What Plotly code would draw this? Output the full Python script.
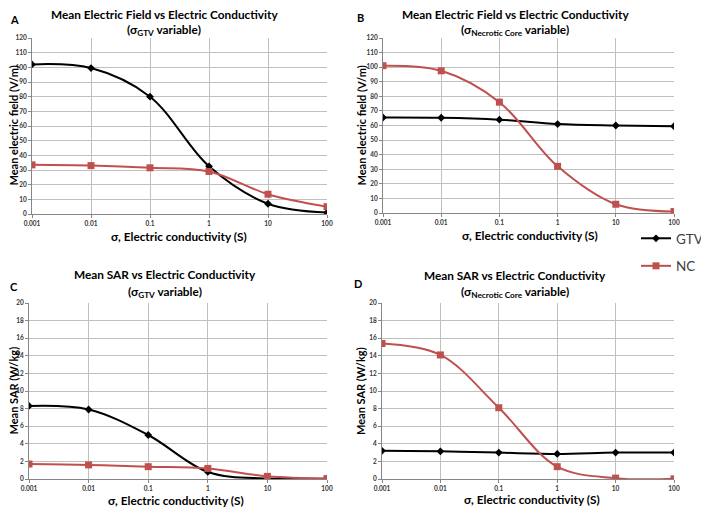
import plotly.graph_objects as go

# ── Data ─────────────────────────────────────────────────────────
sigma = [0.001, 0.01, 0.1, 1, 10, 100]
tick_text = ["0.001", "0.01", "0.1", "1", "10", "100"]

# A: mean E-field, sigma GTV variable
a_gtv = [102, 99.5, 80, 32.5, 7, 1]
a_nc = [33.5, 33, 31.5, 29, 13.5, 5]
# B: mean E-field, sigma necrotic core variable
b_gtv = [65.5, 65.3, 64, 61, 60, 59.5]
b_nc = [101, 97.5, 76, 32, 6, 1]
# C: mean SAR, sigma GTV variable
c_gtv = [8.3, 7.9, 5.0, 0.8, 0.05, 0.02]
c_nc = [1.7, 1.6, 1.4, 1.2, 0.3, 0.05]
# D: mean SAR, sigma necrotic core variable
d_gtv = [3.2, 3.15, 3.0, 2.85, 3.0, 3.0]
d_nc = [15.4, 14.1, 8.1, 1.4, 0.1, 0.02]

BLACK = "#000000"
RED = "#C0504D"
FONT = "Lato"
W, H = 709, 508
OFF = 8               # the page body has an 8px margin
FW, FH = W - OFF, H - OFF


def px_x(p):
    return (p - OFF) / FW


def px_y(p):
    return 1 - (p - OFF) / FH


def bold(size, color=BLACK):
    return dict(family=FONT, size=size, color=color, weight="bold")


panels = [
    dict(sfx="", gtv=a_gtv, nc=a_nc, xd=(32, 327), yd=(214, 38), ymax=120, dt=10,
         ytitle="Mean electric field (V/m)", ytx=12.5,
         t1="Mean Electric Field vs Electric Conductivity",
         t2="(σ<sub>GTV</sub> variable)", letter="A",
         tx=164, ty=(14, 30), lxy=(14, 19), xt=(179, 237)),
    dict(sfx="2", gtv=b_gtv, nc=b_nc, xd=(383, 674), yd=(213, 38), ymax=120, dt=10,
         ytitle="Mean electric field (V/m)", ytx=361,
         t1="Mean Electric Field vs Electric Conductivity",
         t2="(σ<sub>Necrotic Core</sub> variable)", letter="B",
         tx=515, ty=(14, 30), lxy=(360, 17), xt=(530, 236)),
    dict(sfx="3", gtv=c_gtv, nc=c_nc, xd=(29, 327), yd=(479, 303), ymax=20, dt=2,
         ytitle="Mean SAR (W/kg)", ytx=12.5,
         t1="Mean SAR vs Electric Conductivity",
         t2="(σ<sub>GTV</sub> variable)", letter="C",
         tx=165, ty=(274, 292), lxy=(14, 286), xt=(176, 500)),
    dict(sfx="4", gtv=d_gtv, nc=d_nc, xd=(382, 674), yd=(479, 303), ymax=20, dt=2,
         ytitle="Mean SAR (W/kg)", ytx=360,
         t1="Mean SAR vs Electric Conductivity",
         t2="(σ<sub>Necrotic Core</sub> variable)", letter="D",
         tx=515, ty=(275, 292), lxy=(358, 283), xt=(532, 499.5)),
]

fig = go.Figure()
annotations = []

for i, p in enumerate(panels):
    sfx = p["sfx"]
    fig.add_trace(go.Scatter(
        x=sigma, y=p["gtv"], name="GTV", mode="lines+markers",
        line=dict(color=BLACK, width=2, shape="spline"),
        marker=dict(symbol="diamond", size=6, color=BLACK),
        xaxis="x" + sfx, yaxis="y" + sfx,
        showlegend=(i == 0), legendgroup="gtv",
    ))
    fig.add_trace(go.Scatter(
        x=sigma, y=p["nc"], name="NC", mode="lines+markers",
        line=dict(color=RED, width=2, shape="spline"),
        marker=dict(symbol="square", size=7, color=RED),
        xaxis="x" + sfx, yaxis="y" + sfx,
        showlegend=(i == 0), legendgroup="nc",
    ))

    xd, yd = p["xd"], p["yd"]
    fig.update_layout({
        "xaxis" + sfx: dict(
            type="log", range=[-3, 2], domain=[px_x(xd[0]), px_x(xd[1])],
            anchor="y" + sfx, tickvals=sigma, ticktext=tick_text,
            showgrid=True, gridcolor="#BFBFBF", gridwidth=1,
            showline=True, linecolor="#868686", ticks="outside", ticklen=3,
            tickcolor="#868686", zeroline=False, automargin=False,
            tickfont=bold(6.5, "#333333"),
        ),
        "yaxis" + sfx: dict(
            range=[0, p["ymax"]], dtick=p["dt"], domain=[px_y(yd[0]), px_y(yd[1])],
            anchor="x" + sfx, showgrid=True, gridcolor="#BFBFBF", gridwidth=1,
            showline=True, linecolor="#868686", ticks="outside", ticklen=3,
            tickcolor="#868686", zeroline=False, automargin=False,
            tickfont=bold(6.5, "#333333"),
        ),
    })

    annotations += [
        dict(text=p["t1"], x=px_x(p["tx"]), y=px_y(p["ty"][0]), font=bold(11.8)),
        dict(text=p["t2"], x=px_x(p["tx"]), y=px_y(p["ty"][1]), font=bold(11.8)),
        dict(text=p["letter"], x=px_x(p["lxy"][0]), y=px_y(p["lxy"][1]), font=bold(11)),
        dict(text="σ, Electric conductivity (S)", x=px_x(p["xt"][0]),
             y=px_y(p["xt"][1]), font=bold(11.8)),
        dict(text=p["ytitle"], x=px_x(p["ytx"]), y=px_y((yd[0] + yd[1]) / 2),
             textangle=-90, font=bold(11)),
    ]

for a in annotations:
    a.update(xref="paper", yref="paper", xanchor="center", yanchor="middle",
             showarrow=False)

fig.update_layout(
    width=FW, height=FH,
    margin=dict(l=0, r=0, t=0, b=0, autoexpand=False),
    paper_bgcolor="white", plot_bgcolor="white",
    annotations=annotations,
    legend=dict(x=px_x(636), y=px_y(223), xanchor="left", yanchor="top",
                font=dict(family=FONT, size=13.5, color="#404040"),
                tracegroupgap=7, itemwidth=30, bgcolor="rgba(0,0,0,0)"),
)

fig.write_html("out.html")
